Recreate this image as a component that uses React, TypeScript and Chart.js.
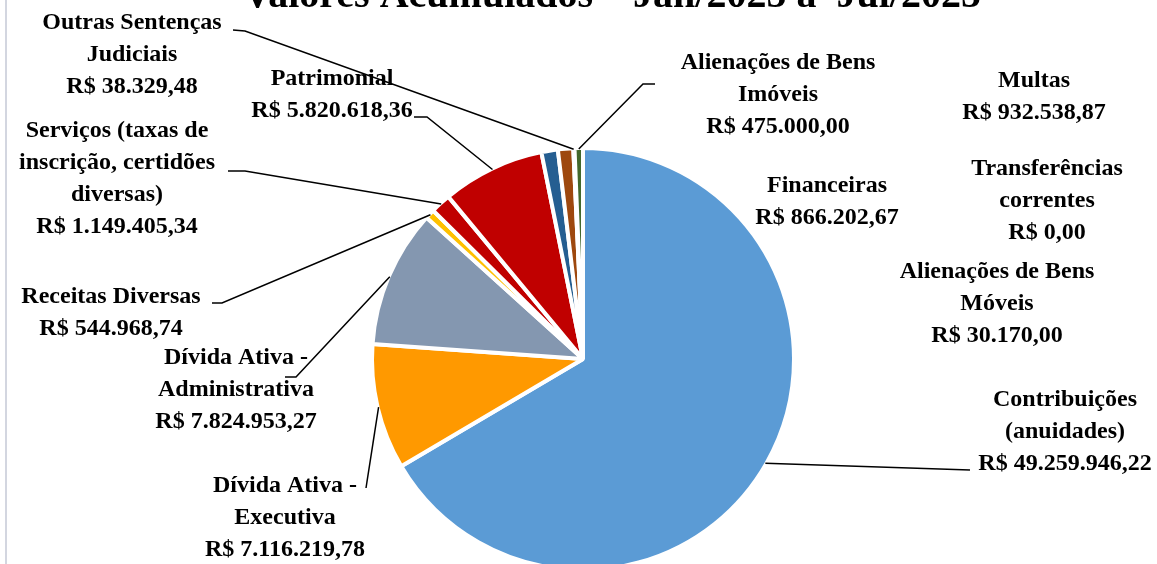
import React, { useEffect, useRef } from 'react';
import { Chart, registerables } from 'chart.js';

Chart.register(...registerables);

const TITLE = 'Valores Acumulados – Jan/2025 a  Jul/2025';

const categories = [
  'Contribuições (anuidades)',
  'Dívida Ativa - Executiva',
  'Dívida Ativa - Administrativa',
  'Receitas Diversas',
  'Serviços (taxas de inscrição, certidões diversas)',
  'Patrimonial',
  'Multas',
  'Financeiras',
  'Outras Sentenças Judiciais',
  'Transferências correntes',
  'Alienações de Bens Móveis',
  'Alienações de Bens Imóveis',
];

const values = [
  49259946.22, 7116219.78, 7824953.27, 544968.74, 1149405.34, 5820618.36,
  932538.87, 866202.67, 38329.48, 0.0, 30170.0, 475000.0,
];

const labelLines = [
  ['Contribuições', '(anuidades)'],
  ['Dívida Ativa -', 'Executiva'],
  ['Dívida Ativa -', 'Administrativa'],
  ['Receitas Diversas'],
  ['Serviços (taxas de', 'inscrição, certidões', 'diversas)'],
  ['Patrimonial'],
  ['Multas'],
  ['Financeiras'],
  ['Outras Sentenças', 'Judiciais'],
  ['Transferências', 'correntes'],
  ['Alienações de Bens', 'Móveis'],
  ['Alienações de Bens', 'Imóveis'],
];

const colors = [
  '#5B9BD5', '#FF9900', '#8497B0', '#FFC000', '#C00000', '#C00000',
  '#255E91', '#9E480E', '#636363', '#997300', '#264478', '#43682B',
];

// label placement (layout only)
const labelLayout: { x: number; y: number; leader?: number[][] }[] = [
  { x: 1065, y: 400, leader: [[970, 470]] },
  { x: 285, y: 486, leader: [[366, 488]] },
  { x: 236, y: 358, leader: [[285, 377], [296, 377]] },
  { x: 111, y: 297, leader: [[212, 303], [222, 303]] },
  { x: 117, y: 131, leader: [[228, 171], [245, 171]] },
  { x: 332, y: 79, leader: [[414, 117], [427, 117]] },
  { x: 1034, y: 81 },
  { x: 827, y: 186 },
  { x: 132, y: 23, leader: [[233, 30], [245, 31]] },
  { x: 1047, y: 169 },
  { x: 997, y: 272 },
  { x: 778, y: 63, leader: [[655, 84], [643, 84]] },
];

function brl(v: number): string {
  const [i, d] = v.toFixed(2).split('.');
  return 'R$ ' + i.replace(/\B(?=(\d{3})+(?!\d))/g, '.') + ',' + d;
}

const FONT = 'bold 24px "Liberation Serif"';
const LINE_H = 31.8;

const labelsPlugin = {
  id: 'pieLabels',
  afterDraw(chart: any) {
    const ctx = chart.ctx as CanvasRenderingContext2D;
    const meta = chart.getDatasetMeta(0);
    ctx.save();
    // left frame line
    ctx.fillStyle = '#D3D6E0';
    ctx.fillRect(5, 0, 2, chart.height);

    // title
    ctx.fillStyle = '#000';
    ctx.font = 'bold 40px "Liberation Serif"';
    ctx.textAlign = 'left';
    ctx.textBaseline = 'alphabetic';
    ctx.fillText(TITLE, 243, 7);

    // leader lines
    ctx.strokeStyle = '#000';
    ctx.lineWidth = 1.5;
    labelLayout.forEach((lay, i) => {
      if (!lay.leader || values[i] === 0) return;
      const arc = meta.data[i];
      const p = arc.getProps(['x', 'y', 'startAngle', 'endAngle', 'outerRadius'], true);
      const mid = (p.startAngle + p.endAngle) / 2;
      const tx = p.x + Math.cos(mid) * (p.outerRadius - 1);
      const ty = p.y + Math.sin(mid) * (p.outerRadius - 1);
      ctx.beginPath();
      ctx.moveTo(lay.leader[0][0], lay.leader[0][1]);
      for (let k = 1; k < lay.leader.length; k++) ctx.lineTo(lay.leader[k][0], lay.leader[k][1]);
      ctx.lineTo(tx, ty);
      ctx.stroke();
    });

    // labels
    ctx.font = FONT;
    ctx.textAlign = 'center';
    ctx.textBaseline = 'middle';
    ctx.fillStyle = '#000';
    labelLayout.forEach((lay, i) => {
      const lines = [...labelLines[i], brl(values[i])];
      lines.forEach((t, k) => ctx.fillText(t, lay.x, lay.y + k * LINE_H));
    });
    ctx.restore();
  },
};

export default function App() {
  const ref = useRef<HTMLCanvasElement>(null);
  useEffect(() => {
    if (!ref.current) return;
    const chart = new Chart(ref.current, {
      type: 'pie',
      data: {
        labels: categories,
        datasets: [
          {
            data: values,
            backgroundColor: colors,
            borderColor: '#ffffff',
            borderWidth: 4,
            radius: 211,
            clip: false,
          } as any,
        ],
      },
      options: {
        responsive: false,
        animation: false,
        devicePixelRatio: 1,
        events: [],
        layout: { padding: { left: 372, right: 363, top: 154, bottom: 0 } },
        plugins: {
          legend: { display: false },
          tooltip: { enabled: false },
          title: { display: false },
        },
      },
      plugins: [labelsPlugin],
    });
    return () => chart.destroy();
  }, []);
  return (
    <div style={{ position: 'absolute', left: 0, top: 0, width: 1157, height: 564, overflow: 'hidden', background: '#fff' }}>
      <canvas ref={ref} width={1157} height={564} style={{ display: 'block', width: 1157, height: 564 }} />
    </div>
  );
}
